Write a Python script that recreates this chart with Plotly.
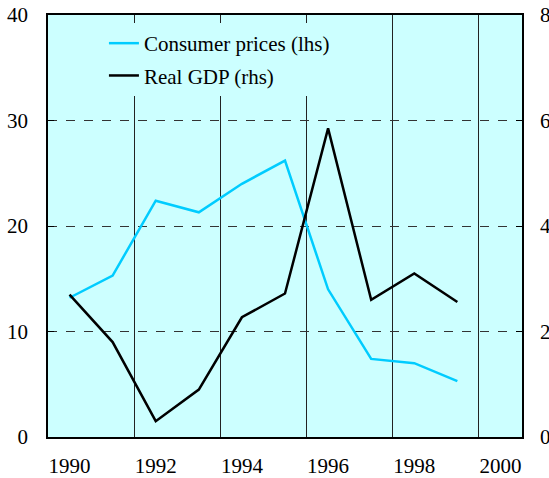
import plotly.graph_objects as go

years = [1990, 1991, 1992, 1993, 1994, 1995, 1996, 1997, 1998, 1999]
consumer_prices = [13.2, 15.3, 22.4, 21.3, 24.0, 26.2, 14.0, 7.4, 7.0, 5.3]
real_gdp = [2.7, 1.8, 0.3, 0.9, 2.27, 2.72, 5.85, 2.6, 3.1, 2.56]
x_tick_labels = ["1990", "1992", "1994", "1996", "1998", "2000"]
x_tick_vals = [1990, 1992, 1994, 1996, 1998, 2000]
x_grid_vals = [1991.5, 1993.5, 1995.5, 1997.5, 1999.5]

FONT = "Liberation Serif"

fig = go.Figure()
fig.add_trace(go.Scatter(
    x=years, y=consumer_prices, mode="lines", name="Consumer prices (lhs)",
    line=dict(color="#00ccff", width=2.5), legendgroup="a", yaxis="y"))
fig.add_trace(go.Scatter(
    x=years, y=real_gdp, mode="lines", name="Real GDP (rhs)",
    line=dict(color="#000000", width=2.5), legendgroup="b", yaxis="y2"))

fig.update_layout(
    width=549, height=478,
    margin=dict(l=48, r=27, t=15, b=41, autoexpand=False),
    paper_bgcolor="white",
    plot_bgcolor="#ccffff",
    font=dict(family=FONT, size=21, color="black"),
    showlegend=True,
    legend=dict(
        x=0.118, y=0.981, xanchor="left", yanchor="top",
        bgcolor="#ccffff", borderwidth=0,
        font=dict(family=FONT, size=21, color="black"),
        tracegroupgap=2, itemwidth=30,
    ),
    xaxis=dict(
        range=[1989.5, 2000.5], automargin=False,
        tickmode="array", tickvals=x_tick_vals, ticktext=x_tick_labels,
        showgrid=False, ticks="", ticklabelstandoff=9,
        showline=True, linecolor="black", linewidth=1.5, mirror=True,
        zeroline=False,
        minor=dict(tickmode="array", tickvals=x_grid_vals, showgrid=True,
                   gridcolor="#222222", gridwidth=1, ticks=""),
    ),
    yaxis=dict(
        range=[0, 40], tickmode="linear", tick0=0, dtick=10, automargin=False,
        showgrid=True, gridcolor="#333333", gridwidth=1, griddash="dash",
        ticks="inside", ticklen=6, tickcolor="black",
        showline=True, linecolor="black", linewidth=1.5,
        zeroline=False, ticklabelstandoff=14,
    ),
    yaxis2=dict(
        range=[0, 8], tickmode="linear", tick0=0, dtick=2, automargin=False,
        overlaying="y", side="right", showgrid=False,
        ticks="inside", ticklen=6, tickcolor="black",
        showline=True, linecolor="black", linewidth=1.5,
        zeroline=False, ticklabelstandoff=12,
    ),
)

fig.write_html("out.html", config={"displayModeBar": False},
               post_script="document.body.style.margin='0';")
